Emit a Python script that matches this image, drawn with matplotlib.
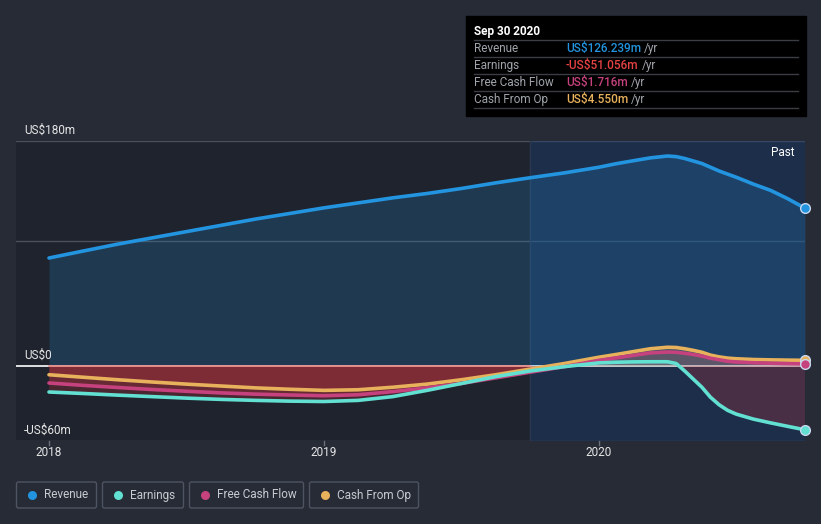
import matplotlib
matplotlib.use("Agg")
import matplotlib.pyplot as plt
from matplotlib.patches import FancyBboxPatch, Rectangle
import numpy as np

plt.rcParams["font.family"] = ["Roboto", "DejaVu Sans"]

# time in years
dates = [2018.0, 2018.125, 2018.25, 2018.375, 2018.5, 2018.625, 2018.75, 2018.875,
         2019.0, 2019.125, 2019.25, 2019.375, 2019.5, 2019.625, 2019.75, 2019.875,
         2020.0, 2020.0625, 2020.125, 2020.1875, 2020.25, 2020.28125, 2020.3125,
         2020.34375, 2020.375, 2020.40625, 2020.4375, 2020.46875, 2020.5,
         2020.5625, 2020.625, 2020.6875, 2020.75]

revenue = [86.4, 92.0, 97.5, 102.5, 107.5, 112.5, 117.5, 122.0,
           126.5, 130.5, 134.5, 138.0, 142.0, 146.5, 150.6, 154.5,
           159.0, 161.8, 164.2, 166.5, 168.0, 167.5, 166.0,
           164.0, 162.0, 159.0, 156.0, 153.5, 151.0,
           145.5, 140.5, 133.8, 126.239]
earnings = [-20.8, -22.0, -23.3, -24.5, -25.7, -26.7, -27.5, -28.1,
            -28.4, -27.5, -24.5, -19.5, -14.0, -8.5, -4.0, -0.5,
            2.5, 3.0, 3.3, 3.4, 3.4, 2.0, -4.0,
            -10.5, -17.0, -25.0, -31.0, -35.5, -38.5,
            -42.5, -45.5, -48.3, -51.056]
free_cash_flow = [-13.6, -15.5, -17.2, -18.8, -20.2, -21.5, -22.5, -23.2,
                  -23.8, -23.0, -20.5, -17.5, -14.0, -9.5, -5.0, -0.5,
                  4.5, 6.5, 8.5, 10.5, 11.2, 11.0, 10.2,
                  9.2, 8.0, 6.2, 5.0, 3.8, 3.2,
                  2.6, 2.2, 1.9, 1.716]
cash_from_op = [-7.0, -9.0, -11.0, -12.8, -14.5, -16.0, -17.5, -18.6,
                -19.5, -19.0, -17.0, -14.5, -11.0, -7.0, -2.5, 2.0,
                7.0, 9.2, 11.5, 13.8, 15.0, 14.8, 13.8,
                12.5, 11.0, 8.7, 7.3, 6.3, 5.8,
                5.2, 4.9, 4.7, 4.55]

year_ticks = [2018, 2019, 2020]
y_labels = {180: "US$180m", 0: "US$0", -60: "-US$60m"}
past_start = 2019.75

series = [
    ("Revenue", revenue, "#2394df", "US$126.239m", "#2394df"),
    ("Earnings", earnings, "#62e0d2", "-US$51.056m", "#e84343"),
    ("Free Cash Flow", free_cash_flow, "#c6427e", "US$1.716m", "#c6427e"),
    ("Cash From Op", cash_from_op, "#e8b15c", "US$4.550m", "#e8b15c"),
]

W, H = 821, 524
bg = "#262b36"
fig = plt.figure(figsize=(W / 100, H / 100), dpi=100, facecolor=bg)

# main chart area
x0, x1, y0, y1 = 16, 805, 141, 441
ax = fig.add_axes([x0 / W, 1 - y1 / H, (x1 - x0) / W, (y1 - y0) / H])
ax.set_facecolor("#1f232d")
ax.set_xlim(2018 - (49 - 16) / 275, 2020.75)
ax.set_ylim(-60, 180)
for s in ax.spines.values():
    s.set_visible(False)
ax.set_xticks([])
ax.set_yticks([])

x = np.array(dates)
for y in [180, 100, -60]:
    ax.axhline(y, color="#4a505c", lw=1, zorder=1)
ax.axhline(0, color="white", lw=1.2, zorder=2)
ax.plot([2018, past_start], [0, 0], color="#e88a86", lw=1.2, zorder=3)

# past region
ax.axvspan(past_start, 2020.75, color="#1b3d6e", alpha=0.45, lw=0, zorder=1)
ax.axvline(past_start, color="#2a3850", lw=1, zorder=1)

rev = np.array(revenue)
ax.fill_between(x, rev, 0, color="#2394df", alpha=0.2, lw=0, zorder=2)
for name, vals, col, _, _ in series[1:]:
    v = np.array(vals)
    ax.fill_between(x, v, 0, where=v <= 0, interpolate=True, color="#b8323c",
                    alpha=0.28, lw=0, zorder=2)
    ax.fill_between(x, v, 0, where=v >= 0, interpolate=True, color=col,
                    alpha=0.18, lw=0, zorder=2)

for name, vals, col, _, _ in series[::-1]:
    ax.plot(x, vals, color=col, lw=2.6, zorder=4, solid_capstyle="round",
            solid_joinstyle="round")
    ax.plot(x[-1], vals[-1], "o", ms=7, color=col, mec="#c8d8ee", mew=1,
            zorder=5, clip_on=False)

ax.text(2020.71, 176, "Past", color="white", fontsize=8.5, ha="right", va="top")

# overlay for labels, tooltip and legend, in pixels
ov = fig.add_axes([0, 0, 1, 1])
ov.set_xlim(0, W)
ov.set_ylim(H, 0)
ov.axis("off")

for val, lab in y_labels.items():
    py = 366 - val * 1.25
    ov.text(24, py - 4.5, lab, color="#e6e6e6", fontsize=8.5, va="bottom")

for yr in year_ticks:
    px = 49 + (yr - 2018) * 275
    ov.plot([px, px], [441, 445], color="#6a707c", lw=1)
    ov.text(px, 453, str(yr), color="#e6e6e6", fontsize=8.5, ha="center", va="center")

# tooltip
ov.add_patch(Rectangle((466, 16), 340, 100, color="black", zorder=5))
ov.text(474, 31, "Sep 30 2020", color="white", fontsize=8.5, fontweight="bold",
        va="center", zorder=6)
for ly in [40, 57, 74, 91, 108]:
    ov.plot([474, 798], [ly, ly], color="#3a3d44", lw=1, zorder=6)
rend = fig.canvas.get_renderer()
for i, (name, vals, col, txt, tcol) in enumerate(series):
    ry = 48.5 + i * 17
    ov.text(474, ry, name, color="#a0a4ab", fontsize=8.5, va="center", zorder=6)
    t = ov.text(566, ry, txt, color=tcol, fontsize=8.5, fontweight="medium",
                va="center", zorder=6)
    w = t.get_window_extent(renderer=rend).width
    ov.text(566 + w + 3, ry, "/yr", color="#a0a4ab", fontsize=8.5, va="center", zorder=6)

# legend
boxes = [(16, 97), (102, 184), (189, 304), (309, 419)]
for (bx0, bx1), (name, vals, col, _, _) in zip(boxes, series):
    ov.add_patch(FancyBboxPatch((bx0 + 0.5, 482), bx1 - bx0 - 1, 26,
                                boxstyle="round,pad=0,rounding_size=2",
                                fc="none", ec="#4e5462", lw=1))
    ov.plot(bx0 + 16, 494.5, "o", ms=6.5, color=col, mew=0)
    ov.text(bx0 + 28, 495, name, color="#c8cbd0", fontsize=8.5, va="center")

fig.savefig("out.png", dpi=100, facecolor=bg)
